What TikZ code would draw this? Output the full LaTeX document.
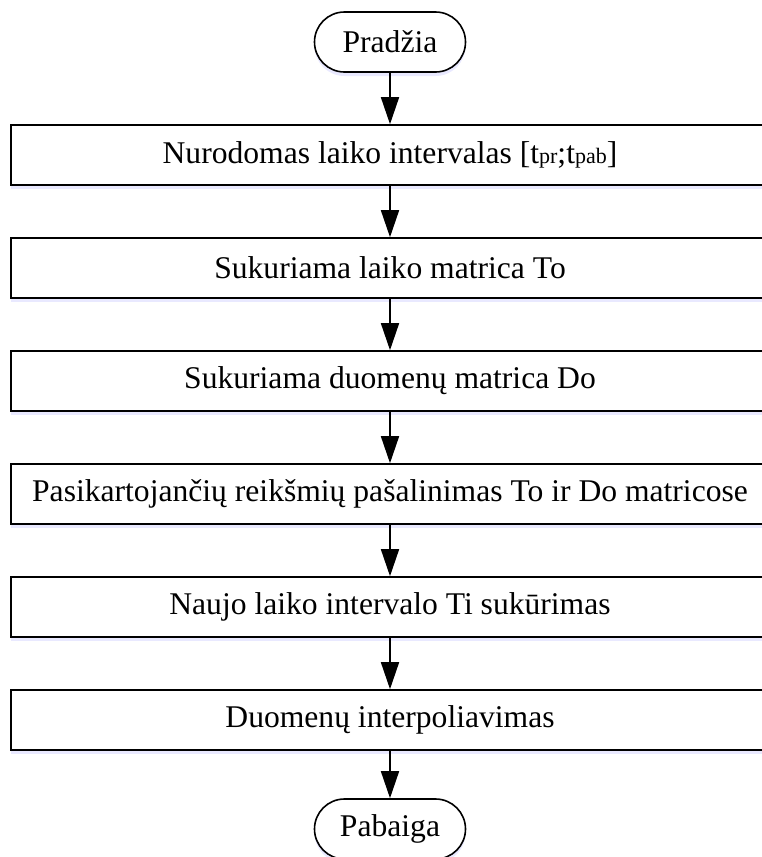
\documentclass[tikz,border=0pt]{standalone}
\usepackage{fontspec}
\setmainfont{Liberation Serif}
\usetikzlibrary{arrows.meta,positioning,shadows}

\newcommand{\lo}[1]{{\fontsize{22}{22}\selectfont #1}}

\begin{document}
\begin{tikzpicture}[x=1pt,y=1pt,
node distance=51.4pt,
every node/.style={font=\fontsize{31.6}{36}\selectfont, line width=1.6pt, draw,
  fill=white, drop shadow={shadow xshift=0pt, shadow yshift=-4pt, opacity=.35, fill=blue!25}},
procbox/.style={rectangle, minimum width=758pt, minimum height=60pt},
termbox/.style={rectangle, rounded corners=30pt, minimum width=151pt, minimum height=60pt},
flowarrow/.style={line width=1.6pt, -{Triangle[length=27pt,width=18pt]}}]
\useasboundingbox (0,0) rectangle (761,-857);
\node[termbox] (start) at (390,-42) {Pradžia};
\node[procbox, below=of start] (B1) {Nurodomas laiko intervalas [t\lo{pr};t\lo{pab}]};
\node[procbox, below=of B1] (B2) {Sukuriama laiko matrica To};
\node[procbox, below=of B2] (B3) {Sukuriama duomenų matrica Do};
\node[procbox, below=of B3] (B4) {Pasikartojančių reikšmių pašalinimas To ir Do matricose};
\node[procbox, below=of B4] (B5) {Naujo laiko intervalo Ti sukūrimas};
\node[procbox, below=of B5] (B6) {Duomenų interpoliavimas};
\node[termbox, below=47.4pt of B6] (stop) {Pabaiga};
\draw[flowarrow] (start)--(B1);
\draw[flowarrow] (B1)--(B2);
\draw[flowarrow] (B2)--(B3);
\draw[flowarrow] (B3)--(B4);
\draw[flowarrow] (B4)--(B5);
\draw[flowarrow] (B5)--(B6);
\draw[flowarrow] (B6)--(stop);
\end{tikzpicture}
\end{document}
